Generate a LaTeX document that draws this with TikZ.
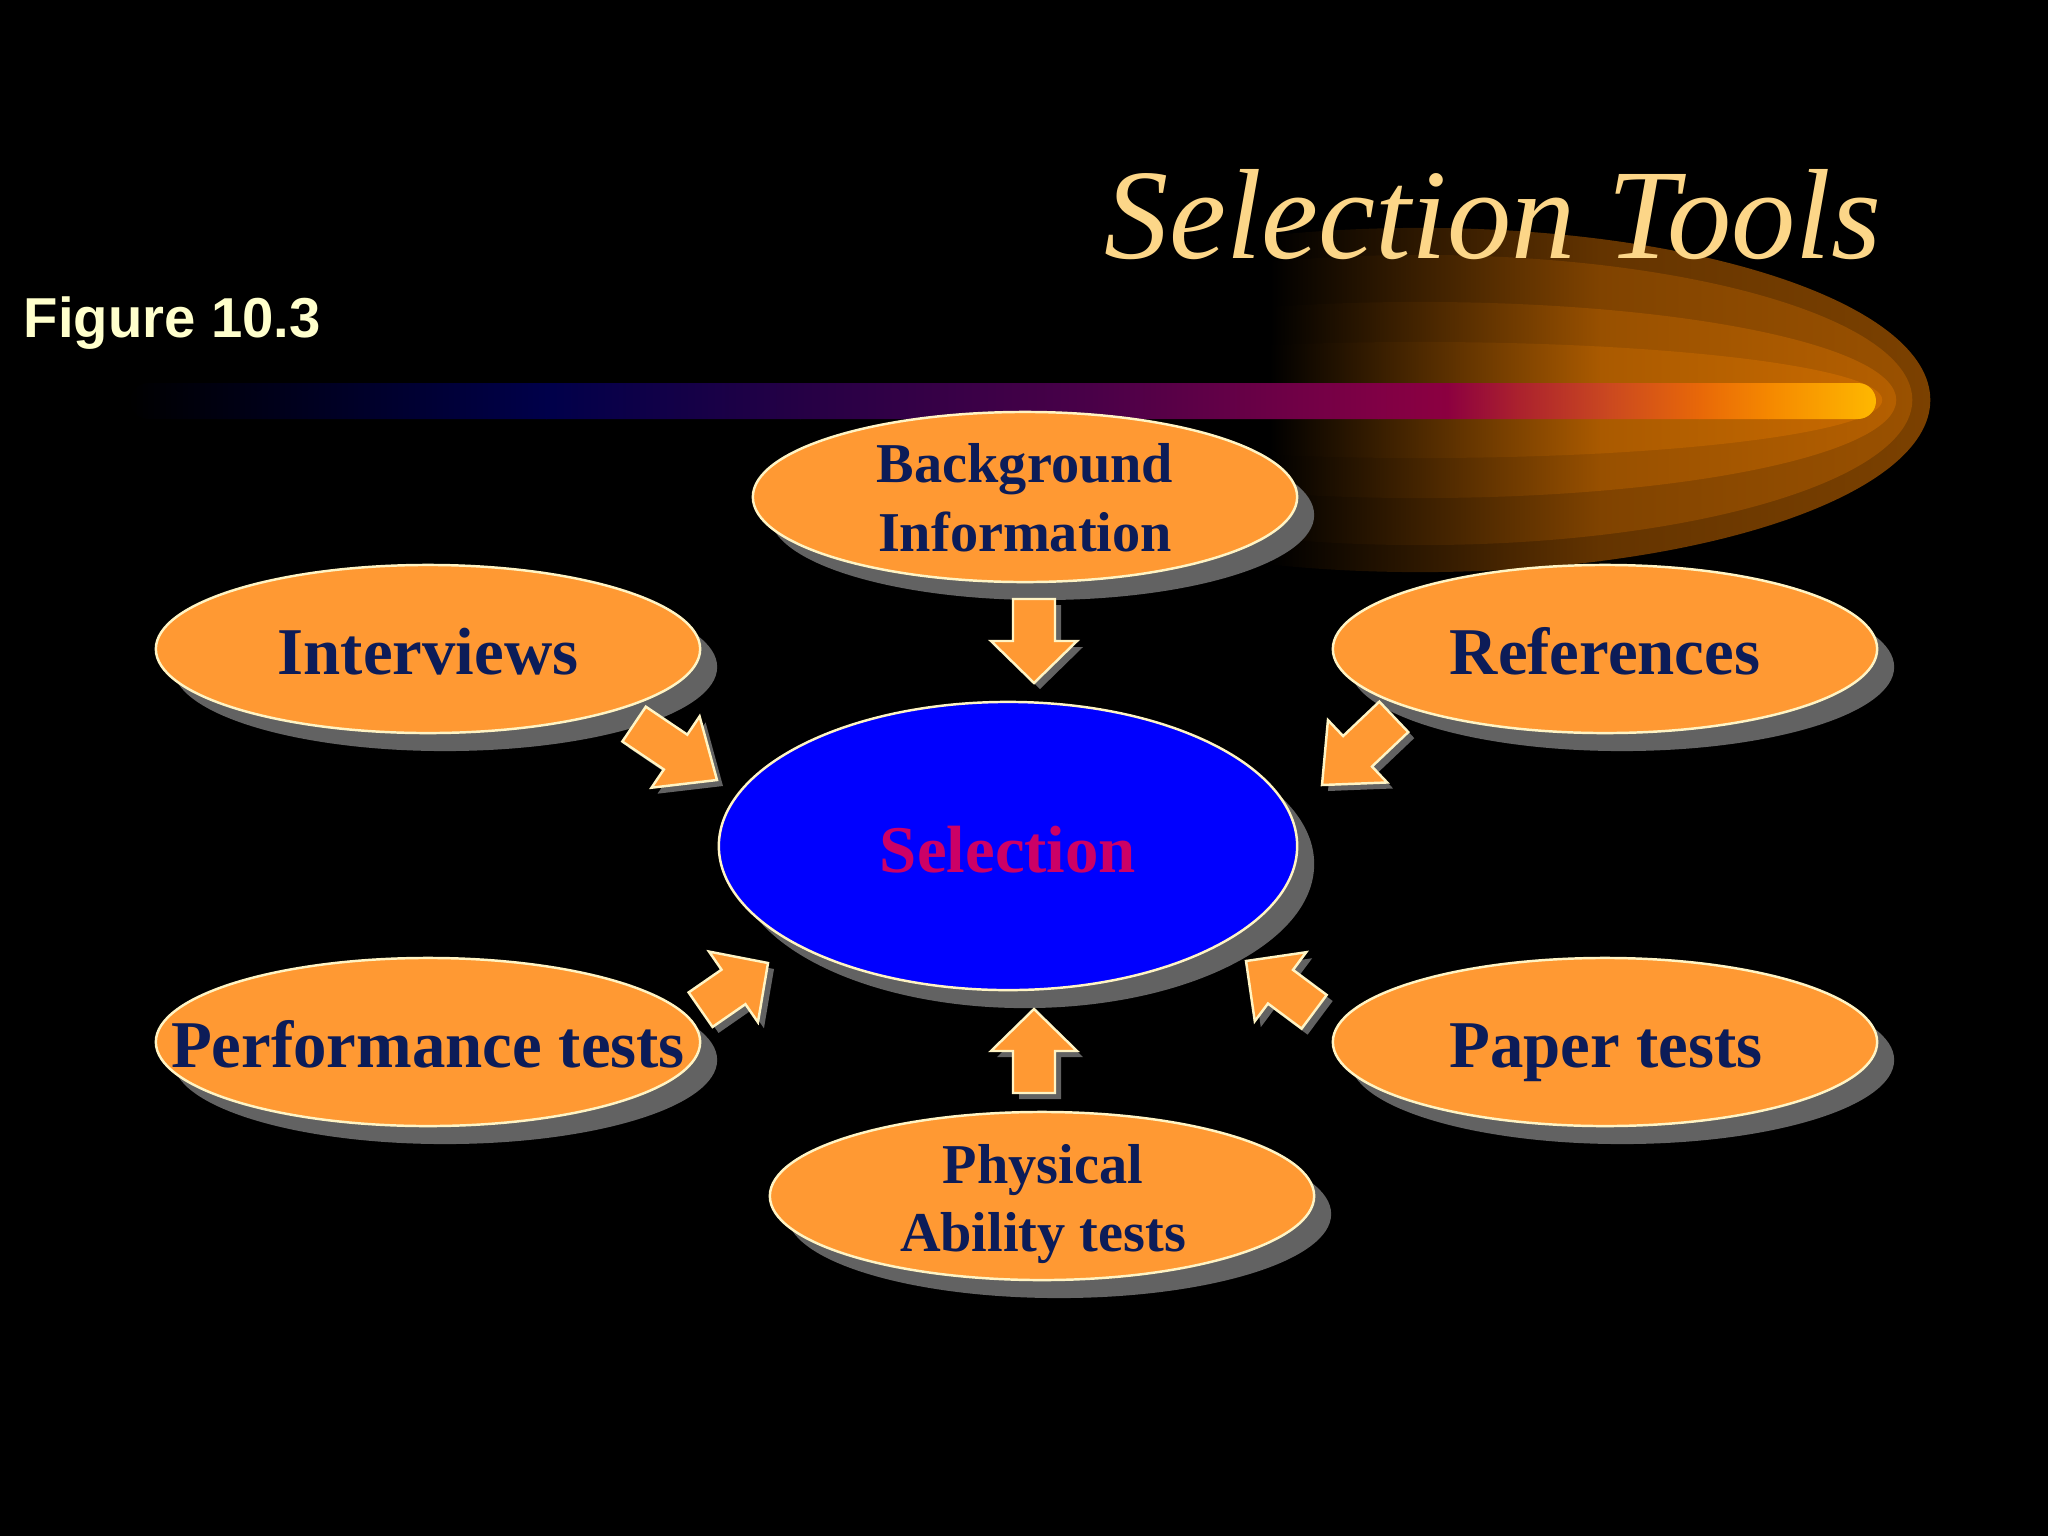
\documentclass[tikz,border=0pt]{standalone}
\usepackage{fontspec}
\setmainfont{Liberation Serif}
\newfontfamily\figfont{Liberation Sans}
\usetikzlibrary{shapes.geometric,shadows}
\definecolor{orangefill}{RGB}{255,153,51}
\definecolor{cream}{RGB}{255,244,196}
\definecolor{navytext}{RGB}{12,28,88}
\definecolor{shadowgray}{RGB}{98,98,98}
\definecolor{selblue}{RGB}{0,0,255}
\definecolor{crimson}{RGB}{204,0,102}
\definecolor{gold}{RGB}{252,214,136}
\definecolor{figcream}{RGB}{255,255,204}
\tikzset{
  tool/.style={ellipse, draw=cream, line width=0.7pt, fill=orangefill,
    minimum width=5.44cm, minimum height=1.68cm, inner sep=0pt,
    drop shadow={shadow xshift=0.17cm, shadow yshift=-0.18cm, fill=shadowgray, opacity=1}},
  hub/.style={tool, fill=selblue, minimum width=5.78cm, minimum height=2.88cm},
  tooltext/.style={font=\fontsize{19pt}{23pt}\selectfont\bfseries, text=navytext, inner sep=0pt},
  twoline/.style={font=\fontsize{16pt}{19.6pt}\selectfont\bfseries, text=navytext, inner sep=0pt, align=center},
  hubtext/.style={tooltext, text=crimson},
  arrowbody/.style={fill=orangefill, draw=cream, line width=0.7pt, line join=miter},
  arrowshadow/.style={fill=shadowgray}
}
\newcommand\blockarrow[6]{%
  \coordinate (#1) at (#2,#3);
  \begin{scope}[shift={({#2+6},{#3+6})},rotate=#4]
    \fill[arrowshadow] (0,0) -- (-#6,43) -- (-#6,21) -- (-#5,21) -- (-#5,-21) -- (-#6,-21) -- (-#6,-43) -- cycle;
  \end{scope}
  \begin{scope}[shift={(#1)},rotate=#4]
    \draw[arrowbody] (0,0) -- (-#6,43) -- (-#6,21) -- (-#5,21) -- (-#5,-21) -- (-#6,-21) -- (-#6,-43) -- cycle;
  \end{scope}}
% glow layer: x radius, y radius, mid colour, end colour
\newcommand\glowlayer[4]{%
  \begin{scope}
    \clip (1420,400) ellipse [x radius=#1, y radius=#2];
    \shade[left color=black, right color=#3] (1270,200) rectangle (1601,600);
    \shade[left color=#3, right color=#4] (1600,200) rectangle (1935,600);
  \end{scope}}
\begin{document}
\begin{tikzpicture}[x=0.01cm,y=-0.01cm]
\fill[black] (0,0) rectangle (2048,1536);
\useasboundingbox (0,0) rectangle (2048,1536);

% glow
\glowlayer{5.10cm}{1.72cm}{{rgb,255:red,100;green,52;blue,0}}{{rgb,255:red,124;green,65;blue,0}}
\glowlayer{4.92cm}{1.45cm}{{rgb,255:red,128;green,67;blue,0}}{{rgb,255:red,156;green,82;blue,0}}
\glowlayer{4.76cm}{0.98cm}{{rgb,255:red,152;green,80;blue,0}}{{rgb,255:red,184;green,97;blue,0}}
\glowlayer{4.62cm}{0.58cm}{{rgb,255:red,170;green,90;blue,0}}{{rgb,255:red,206;green,109;blue,0}}

% bar
\begin{scope}
  \clip[rounded corners=0.18cm] (130,383) rectangle (1876,419);
  \shade[left color=black, right color={rgb,255:red,0;green,0;blue,40}] (128,380) rectangle (356,422);
  \shade[left color={rgb,255:red,0;green,0;blue,40}, right color={rgb,255:red,0;green,0;blue,74}] (355,380) rectangle (547,422);
  \shade[left color={rgb,255:red,0;green,0;blue,74}, right color={rgb,255:red,37;green,0;blue,69}] (546,380) rectangle (801,422);
  \shade[left color={rgb,255:red,37;green,0;blue,69}, right color={rgb,255:red,74;green,0;blue,72}] (800,380) rectangle (1096,422);
  \shade[left color={rgb,255:red,74;green,0;blue,72}, right color={rgb,255:red,128;green,0;blue,69}] (1095,380) rectangle (1379,422);
  \shade[left color={rgb,255:red,128;green,0;blue,69}, right color={rgb,255:red,140;green,0;blue,64}] (1378,380) rectangle (1448,422);
  \shade[left color={rgb,255:red,140;green,0;blue,64}, right color={rgb,255:red,170;green,32;blue,46}] (1447,380) rectangle (1516,422);
  \shade[left color={rgb,255:red,170;green,32;blue,46}, right color={rgb,255:red,202;green,72;blue,32}] (1515,380) rectangle (1608,422);
  \shade[left color={rgb,255:red,202;green,72;blue,32}, right color={rgb,255:red,232;green,104;blue,8}] (1607,380) rectangle (1700,422);
  \shade[left color={rgb,255:red,232;green,104;blue,8}, right color={rgb,255:red,245;green,136;blue,0}] (1699,380) rectangle (1769,422);
  \shade[left color={rgb,255:red,245;green,136;blue,0}, right color={rgb,255:red,255;green,186;blue,0}] (1768,380) rectangle (1880,422);
\end{scope}

% titles
\node[font=\fontsize{36.5pt}{40pt}\selectfont\itshape, text=gold, anchor=base, inner sep=0pt] (title) at (1493,258) {Selection Tools};
\node[font=\figfont\bfseries\fontsize{16pt}{19pt}\selectfont, text=figcream, anchor=base west, inner sep=0pt] (fig) at (23,337) {Figure 10.3};

% ellipses
\node[tool, minimum height=1.70cm] (bg) at (1025,497) {};
\node[tool] (int) at (428,649) {};
\node[tool] (ref) at (1605,649) {};
\node[hub] (sel) at (1008,846) {};
\node[tool] (perf) at (428,1042) {};
\node[tool] (paper) at (1605,1042) {};
\node[tool] (phys) at (1042,1196) {};

% texts
\node[twoline] at (1025,498) {Background\\Information};
\node[tooltext, anchor=base] at (428,674) {Interviews};
\node[tooltext, anchor=base] at (1605,674) {References};
\node[hubtext, anchor=base] at (1008,872) {Selection};
\node[tooltext, anchor=base] at (428,1067) {Performance tests};
\node[tooltext, anchor=base] at (1606,1067) {Paper tests};
\node[twoline] at (1043,1204) {Physical\\Ability tests};

% block arrows toward the selection ellipse
\blockarrow{tipbg}{1034}{683}{-90}{84}{42}
\blockarrow{tipint}{717}{780}{-34}{100}{50}
\blockarrow{tipref}{1322}{785}{-136.5}{99}{49}
\blockarrow{tipperf}{768}{963}{34.7}{82}{42}
\blockarrow{tippaper}{1246}{961}{143.3}{85}{43}
\blockarrow{tipphys}{1034}{1009}{90}{84}{42}
\end{tikzpicture}
\end{document}
